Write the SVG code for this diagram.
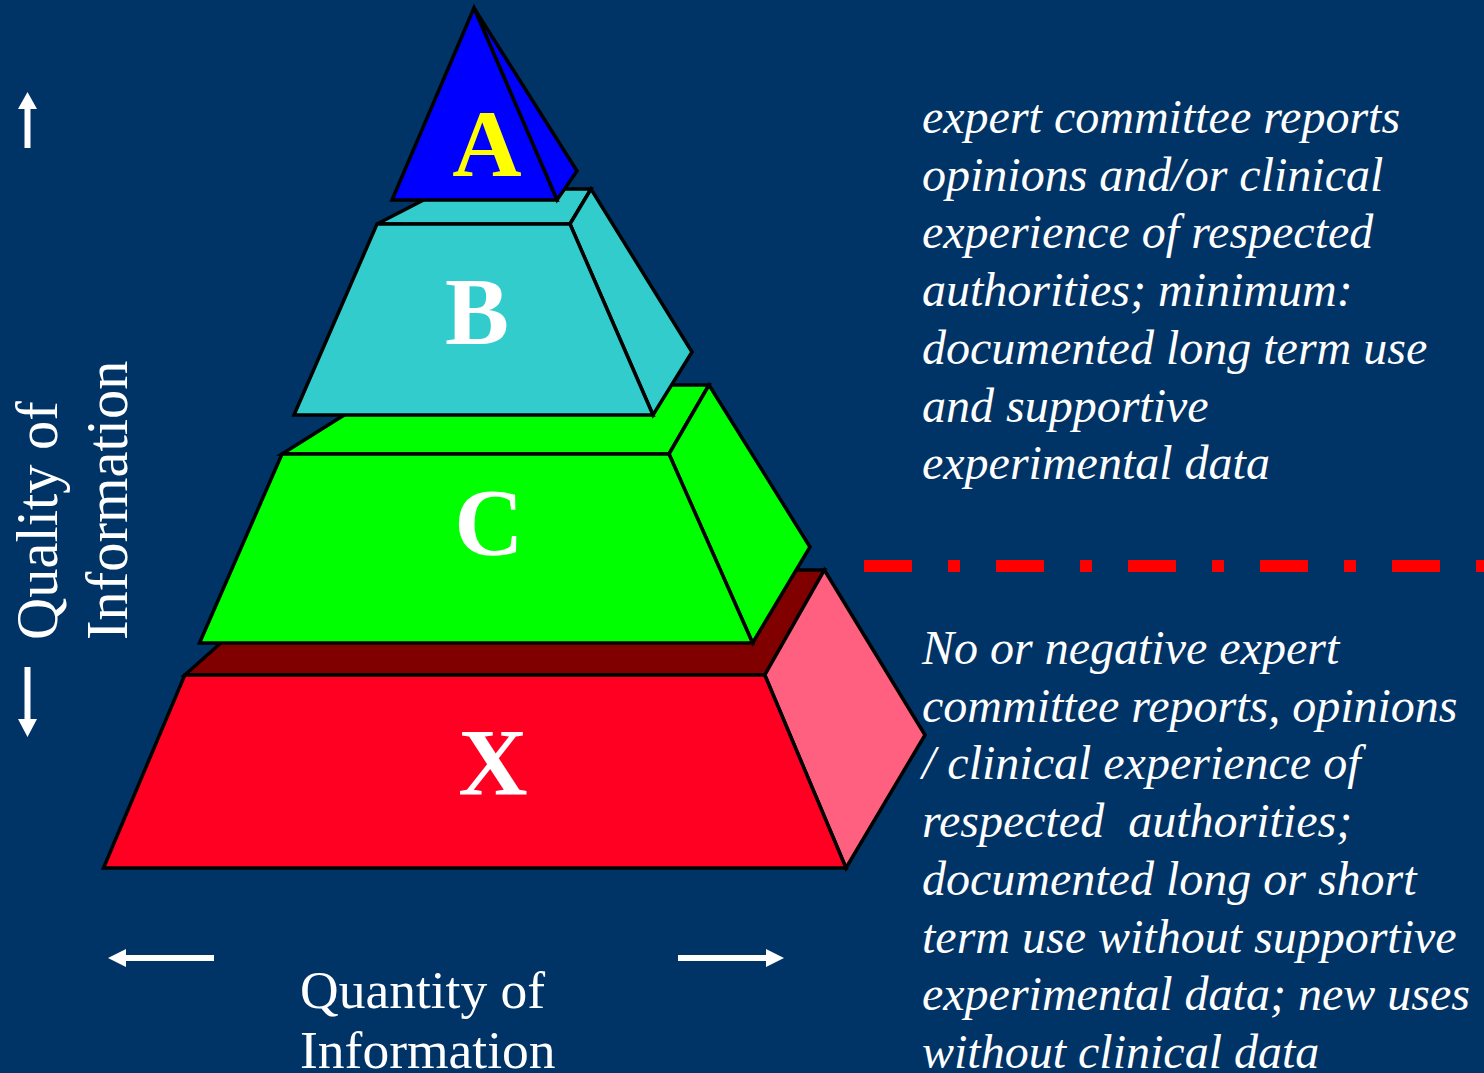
<svg xmlns="http://www.w3.org/2000/svg" width="1484" height="1073" viewBox="0 0 1484 1073">
<style>
.edge{stroke:#000;stroke-width:3.5;stroke-linejoin:miter}
.lbl{font-family:"Liberation Serif","Times New Roman",serif;font-weight:bold;font-size:96px;text-anchor:middle}
.desc{font-family:"Liberation Serif","Times New Roman",serif;font-style:italic;font-size:48px;fill:#fff}
.axis{font-family:"Liberation Serif","Times New Roman",serif;font-size:58.5px;fill:#fff}
.arr{fill:#fff}
</style>
<rect width="1484" height="1073" fill="#003366"/>
<g id="tier-X">
<polygon class="edge" points="184.8,675 303,570 824.4,570 764.8,675" fill="#800000"/>
<polygon class="edge" points="764.8,675 824.4,570 925,735 846,868" fill="#ff6080"/>
<polygon class="edge" points="184.8,675 764.8,675 846,868 103.5,868" fill="#ff0022"/>
<text class="lbl" x="493" y="795" fill="#fff">X</text>
</g>
<g id="tier-C">
<polygon class="edge" points="282,454 392,385 709,385 669,454" fill="#00ff00"/>
<polygon class="edge" points="669,454 709,385 810,547 752.6,643" fill="#00ff00"/>
<polygon class="edge" points="282,454 669,454 752.6,643 199.5,643" fill="#00ff00"/>
<text class="lbl" x="489" y="555" fill="#fff">C</text>
</g>
<g id="tier-B">
<polygon class="edge" points="377,224 445,189 591,189 570,224" fill="#33cccc"/>
<polygon class="edge" points="570,224 591,189 692,352 653,415" fill="#33cccc"/>
<polygon class="edge" points="377,224 570,224 653,415 294,415" fill="#33cccc"/>
<text class="lbl" x="477" y="344" fill="#fff">B</text>
</g>
<g id="tier-A">
<polygon class="edge" points="474,8 577,171 557,200" fill="#0000ff"/>
<polygon class="edge" points="474,8 557,200 392,200" fill="#0000ff"/>
<text class="lbl" x="487" y="176" fill="#ffff00">A</text>
</g>
<g id="connectors">
<line x1="864" y1="566" x2="1484" y2="566" stroke="#ff0000" stroke-width="12" stroke-dasharray="48 36 12 36"/>
<polygon class="arr" points="27.5,92 37,109 30.5,109 30.5,148 24.5,148 24.5,109 18,109"/>
<polygon class="arr" points="27.5,737 37,719 30.5,719 30.5,667 24.5,667 24.5,719 18,719"/>
<polygon class="arr" points="108,958 126,949 126,955 214,955 214,961 126,961 126,967"/>
<polygon class="arr" points="784,958 766,949 766,955 678,955 678,961 766,961 766,967"/>
</g>
<g id="axis-labels">
<text class="axis" transform="translate(57,640) rotate(-90)">Quality of</text>
<text class="axis" transform="translate(127,640) rotate(-90)">Information</text>
<text class="axis" x="300" y="1008" style="font-size:53.5px">Quantity of</text>
<text class="axis" x="300" y="1068" style="font-size:53.5px">Information</text>
</g>
<g id="desc-top">
<text class="desc" x="922" y="133">expert committee reports</text>
<text class="desc" x="922" y="190.7">opinions and/or clinical</text>
<text class="desc" x="922" y="248.4">experience of respected</text>
<text class="desc" x="922" y="306.1">authorities; minimum:</text>
<text class="desc" x="922" y="363.8">documented long term use</text>
<text class="desc" x="922" y="421.5">and supportive</text>
<text class="desc" x="922" y="479.2">experimental data</text>
</g>
<g id="desc-bottom">
<text class="desc" x="922" y="664">No or negative expert</text>
<text class="desc" x="922" y="721.7">committee reports, opinions</text>
<text class="desc" x="922" y="779.4">/ clinical experience of</text>
<text class="desc" x="922" y="837.1" xml:space="preserve">respected  authorities;</text>
<text class="desc" x="922" y="894.8">documented long or short</text>
<text class="desc" x="922" y="952.5">term use without supportive</text>
<text class="desc" x="922" y="1010.2">experimental data; new uses</text>
<text class="desc" x="922" y="1067.9">without clinical data</text>
</g>
</svg>
